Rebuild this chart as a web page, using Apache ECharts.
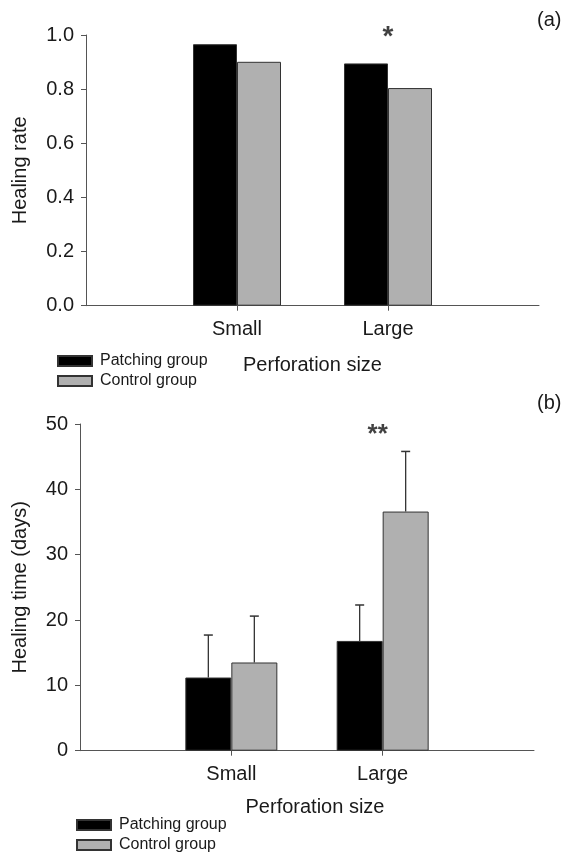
<!DOCTYPE html>
<html>
<head>
<meta charset="utf-8">
<script src="https://cdn.jsdelivr.net/npm/echarts@6/dist/echarts.min.js"></script>
<style>
html,body{margin:0;padding:0;background:#fff;}
#chart{width:564px;height:856px;}
</style>
</head>
<body>
<div id="chart"></div>
<script>
// ---- data ----
var categories = ['Small', 'Large'];
var seriesNames = ['Patching group', 'Control group'];
// (a) healing rate
var rateTicks = [0.0, 0.2, 0.4, 0.6, 0.8, 1.0];
var ratePatching = [0.966, 0.895];
var rateControl = [0.901, 0.804];
// (b) healing time (days), mean and SD
var timeTicks = [0, 10, 20, 30, 40, 50];
var timePatching = [11.2, 16.8];
var timeControl = [13.5, 36.6];
var timePatchingSD = [6.5, 5.5];
var timeControlSD = [7.1, 9.2];
// significance marks
var sigA = [{cat: 'Large', y: 1.015, text: '*'}];
var sigB = [{cat: 'Large', y: 49.1, text: '**'}];

// ---- build ----
var axisCats = [''].concat(categories).concat(['']);
function pad(arr){ return [null].concat(arr).concat([null]); }

var FONT = '"Liberation Sans", Arial, Helvetica, sans-serif';
var TXT = '#1a1a1a';
var AX = '#555';
var BLACK = '#000000';
var GREY = '#b0b0b0';
var BORDER = '#333333';

function xAxisCfg(gridIndex, nameGap, namePad){
  return {
    type: 'category', gridIndex: gridIndex, data: axisCats, boundaryGap: false,
    name: 'Perforation size', nameLocation: 'middle', nameGap: nameGap,
    nameTextStyle: {fontFamily: FONT, fontSize: 20, color: TXT, padding: namePad},
    axisLine: {show: true, lineStyle: {color: AX, width: 1}},
    axisTick: {show: true, length: 5, inside: false, lineStyle: {color: AX},
      interval: function(i){ return i === 1 || i === 2; }},
    axisLabel: {fontFamily: FONT, fontSize: 20, color: TXT, margin: 14, interval: 0},
    splitLine: {show: false}
  };
}
function yAxisCfg(gridIndex, name, nameGap, ticks, fmt, margin){
  return {
    type: 'value', gridIndex: gridIndex, min: ticks[0], max: ticks[ticks.length-1],
    interval: ticks[1] - ticks[0],
    name: name, nameLocation: 'middle', nameGap: nameGap,
    nameTextStyle: {fontFamily: FONT, fontSize: 20, color: TXT},
    axisLine: {show: true, lineStyle: {color: AX, width: 1}},
    axisTick: {show: true, length: 5, inside: false, lineStyle: {color: AX}},
    axisLabel: {fontFamily: FONT, fontSize: 20, color: TXT, margin: margin, formatter: fmt},
    splitLine: {show: false}
  };
}
function barSeries(name, data, color, xi, yi, bw){
  return {
    type: 'bar', name: name, xAxisIndex: xi, yAxisIndex: yi, data: pad(data),
    barWidth: bw, barGap: '0%',
    itemStyle: {color: color, borderColor: BORDER, borderWidth: 1},
    emphasis: {disabled: true}, animation: false
  };
}
function errSeries(means, sds, side, bw){
  var d = [];
  for (var i = 0; i < categories.length; i++) d.push([i + 1, means[i], sds[i]]);
  return {
    type: 'custom', xAxisIndex: 1, yAxisIndex: 1, data: d, z: 5, animation: false,
    renderItem: function(params, api){
      var c = api.value(0), m = api.value(1), s = api.value(2);
      var p0 = api.coord([c, m]);
      var p1 = api.coord([c, m + s]);
      var x = p0[0] + side * bw / 2;
      var cap = 4.5;
      return {
        type: 'group',
        children: [
          {type: 'line', shape: {x1: x, y1: p0[1], x2: x, y2: p1[1]}, style: {stroke: BORDER, lineWidth: 1.3}},
          {type: 'line', shape: {x1: x - cap, y1: p1[1], x2: x + cap, y2: p1[1]}, style: {stroke: BORDER, lineWidth: 1.5}}
        ]
      };
    }
  };
}
function sigSeries(marks, xi, yi, off, fs){
  return {
    type: 'scatter', xAxisIndex: xi, yAxisIndex: yi, symbolSize: 0, clip: false, animation: false,
    data: marks.map(function(m){ return {value: [m.cat, m.y], text: m.text}; }),
    label: {show: true, position: 'inside', offset: off,
      formatter: function(p){ return p.data.text; },
      fontFamily: FONT, fontSize: fs, fontWeight: 'bold', color: '#111'},
    emphasis: {disabled: true}, silent: true
  };
}

var chart = echarts.init(document.getElementById('chart'), null, {renderer: 'canvas'});
chart.setOption({
  backgroundColor: '#ffffff',
  animation: false,
  textStyle: {fontFamily: FONT},
  grid: [
    {left: 86, right: 25, top: 35, bottom: 550.3, containLabel: false},
    {left: 80, right: 30, top: 424, bottom: 105.3, containLabel: false}
  ],
  xAxis: [xAxisCfg(0, 50, [0,0,0,0]), xAxisCfg(1, 47, [0,0,0,16])],
  yAxis: [
    yAxisCfg(0, 'Healing rate', 56, rateTicks, function(v){ return v.toFixed(1); }, 12),
    yAxisCfg(1, 'Healing time (days)', 50, timeTicks, function(v){ return String(v); }, 12)
  ],
  legend: [
    {data: seriesNames, orient: 'vertical', left: 57, top: 353, icon: 'rect', padding: 0,
     itemWidth: 34, itemHeight: 10, itemGap: 4, selectedMode: false,
     textStyle: {fontFamily: FONT, fontSize: 16, color: TXT, lineHeight: 16, padding: [0,0,0,3]}},
    {data: seriesNames, orient: 'vertical', left: 76, top: 817, icon: 'rect', padding: 0,
     itemWidth: 34, itemHeight: 10, itemGap: 4, selectedMode: false,
     textStyle: {fontFamily: FONT, fontSize: 16, color: TXT, lineHeight: 16, padding: [0,0,0,3]}}
  ],
  graphic: [
    {type: 'text', left: 537, top: 10, style: {text: '(a)', font: '20px ' + FONT, fill: TXT}},
    {type: 'text', left: 537, top: 393, style: {text: '(b)', font: '20px ' + FONT, fill: TXT}}
  ],
  series: [
    barSeries(seriesNames[0], ratePatching, BLACK, 0, 0, 44),
    barSeries(seriesNames[1], rateControl, GREY, 0, 0, 44),
    barSeries(seriesNames[0], timePatching, BLACK, 1, 1, 46),
    barSeries(seriesNames[1], timeControl, GREY, 1, 1, 46),
    errSeries(timePatching, timePatchingSD, -1, 46),
    errSeries(timeControl, timeControlSD, 1, 46),
    sigSeries(sigA, 0, 0, [0, 6], 28),
    sigSeries(sigB, 1, 1, [-5, 5], 26)
  ]
});
</script>
</body>
</html>
